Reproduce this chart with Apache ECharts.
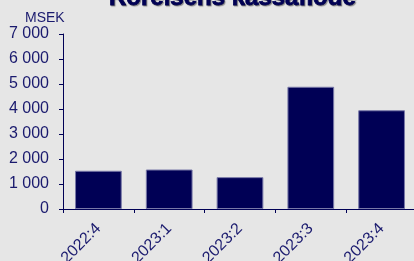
<!DOCTYPE html>
<html><head><meta charset="utf-8">
<script src="https://cdn.jsdelivr.net/npm/echarts@6/dist/echarts.min.js"></script>
<style>html,body{margin:0;padding:0;background:#e6e6e6}#c{width:414px;height:261px}</style>
</head><body><div id="c"></div>
<script>
const titleText = "Rörelsens kassaflöde";
const unitLabel = "MSEK";
const categories = ["2022:4", "2023:1", "2023:2", "2023:3", "2023:4"];
const values = [1530, 1580, 1275, 4890, 3950];

const navy = "#000055";
const textColor = "#1a1a6e";
const chart = echarts.init(document.getElementById('c'), null, {renderer: 'canvas'});
chart.setOption({
  backgroundColor: '#e6e6e6',
  animation: false,
  title: {
    text: titleText, left: 104, top: -19,
    textStyle: {fontFamily: 'Liberation Sans, Arial', fontWeight: 900, fontSize: 24, color: navy,
      textBorderColor: navy, textBorderWidth: 0.8,
      textShadowColor: 'rgba(0,0,0,0.35)', textShadowOffsetX: 1, textShadowOffsetY: 1, textShadowBlur: 1}
  },
  graphic: [{type: 'text', left: 25, top: 11, style: {text: unitLabel, fill: textColor, font: '14px Liberation Sans, Arial'}}],
  grid: {left: 63, top: 34, width: 354, height: 175, containLabel: false, outerBoundsMode: 'none'},
  xAxis: {
    type: 'category', data: categories,
    axisLine: {lineStyle: {color: navy, width: 1}},
    axisTick: {show: true, length: 4, alignWithLabel: false, lineStyle: {color: navy}},
    axisLabel: {rotate: 45, color: textColor, fontSize: 16, fontFamily: 'Liberation Sans, Arial', margin: 17, interval: 0}
  },
  yAxis: {
    type: 'value', min: 0, max: 7000, interval: 1000,
    axisLine: {show: true, lineStyle: {color: navy, width: 1}},
    axisTick: {show: true, length: 4, lineStyle: {color: navy}},
    splitLine: {show: false},
    axisLabel: {color: textColor, fontSize: 16, fontFamily: 'Liberation Sans, Arial', margin: 14,
      formatter: v => String(v).replace(/\B(?=(\d{3})+(?!\d))/g, ' ')}
  },
  series: [{
    type: 'bar', data: values, barWidth: '66%',
    itemStyle: {color: navy, borderColor: '#7878a8', borderWidth: 1}
  }]
});
</script></body></html>
